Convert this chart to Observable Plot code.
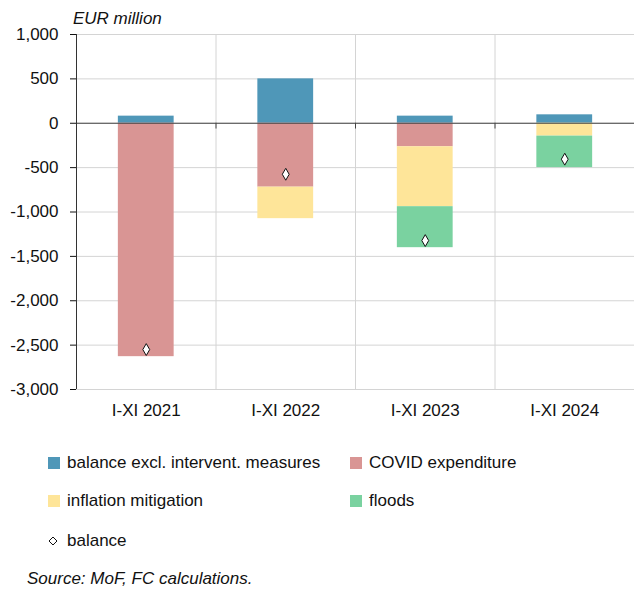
<!DOCTYPE html>
<html><head><meta charset="utf-8">
<script src="https://cdn.jsdelivr.net/npm/d3@7"></script>
<script src="https://cdn.jsdelivr.net/npm/@observablehq/plot@0.6"></script>
<style>
body{margin:0;background:#fff;font-family:"Liberation Sans",sans-serif;color:#111;}
#wrap{position:relative;width:634px;height:590px;}
#chart{position:absolute;left:0;top:0;}
.unit{position:absolute;left:73px;top:9px;font-style:italic;font-size:17px;}
.leg{position:absolute;font-size:17px;line-height:22px;display:flex;align-items:center;}
.sw{width:12px;height:12px;margin-right:7px;display:inline-block;}
.src{position:absolute;left:27px;top:569px;font-style:italic;font-size:17px;}
</style></head><body>
<div id="wrap">
<div id="chart"></div>
<div class="unit">EUR million</div>
<div id="legend"></div>
<div class="src">Source: MoF, FC calculations.</div>
</div>
<script>
const categories = ["I-XI 2021", "I-XI 2022", "I-XI 2023", "I-XI 2024"];
const seriesNames = ["balance excl. intervent. measures", "COVID expenditure", "inflation mitigation", "floods"];
const seriesColors = ["#4f97b8", "#d99594", "#fee599", "#7ad2a0"];
const balanceExcl = [80, 500, 80, 95];
const covid = [-2630, -720, -265, 0];
const inflation = [0, -355, -675, -145];
const floods = [0, 0, -462, -355];
const balance = [-2550, -575, -1322, -405];
const yTicks = [1000, 500, 0, -500, -1000, -1500, -2000, -2500, -3000];

const seriesValues = [balanceExcl, covid, inflation, floods];
const rects = [];
categories.forEach((c, i) => {
  let pos = 0, neg = 0;
  seriesValues.forEach((vals, s) => {
    const v = vals[i];
    if (!v) return;
    let y1, y2;
    if (v >= 0) { y1 = pos; y2 = pos + v; pos = y2; }
    else { y1 = neg; y2 = neg + v; neg = y2; }
    rects.push({i, series: seriesNames[s], y1, y2});
  });
});
const dots = balance.map((v, i) => ({i, v}));
const fmt = d => d3.format(",")(d).replace("\u2212", "-");
const FONT = '"Liberation Sans",sans-serif';

const plot = Plot.plot({
  width: 634, height: 425,
  marginLeft: 76, marginRight: 0, marginTop: 34, marginBottom: 36,
  style: {fontFamily: FONT, fontSize: "17px", color: "#111"},
  x: {type: "linear", domain: [0, 4]},
  y: {domain: [-3000, 1000]},
  color: {domain: seriesNames, range: seriesColors},
  marks: [
    Plot.gridY(yTicks, {stroke: "#d4d4d4", strokeOpacity: 1}),
    Plot.gridX([1, 2, 3, 4], {stroke: "#d4d4d4", strokeOpacity: 1}),
    Plot.rectY(rects, {x1: d => d.i + 0.3, x2: d => d.i + 0.7, y1: "y1", y2: "y2", fill: "series"}),
    Plot.ruleY([0], {stroke: "#444", strokeWidth: 1.2}),
    Plot.ruleX([1, 2, 3], {y1: 0, y2: -65, stroke: "#444"}),
    Plot.ruleX([0], {y1: -3000, y2: 1000, stroke: "#333"}),
    Plot.dot(dots, {x: d => d.i + 0.5, y: "v", symbol: "diamond", r: 3.6, fill: "white", stroke: "#111", strokeWidth: 1}),
    Plot.axisY(yTicks, {tickSize: 6, tickPadding: 12, tickFormat: fmt, label: null, fontSize: 17}),
    Plot.axisX([0.5, 1.5, 2.5, 3.5], {tickSize: 0, tickPadding: 14, tickFormat: d => categories[Math.floor(d)], label: null, fontSize: 17})
  ]
});
document.getElementById("chart").appendChild(plot);

const legend = document.getElementById("legend");
const pos = [[48, 452], [350, 452], [48, 490], [350, 490]];
seriesNames.forEach((n, k) => {
  const d = document.createElement("div");
  d.className = "leg";
  d.style.left = pos[k][0] + "px"; d.style.top = pos[k][1] + "px";
  d.innerHTML = `<span class="sw" style="background:${seriesColors[k]}"></span><span>${n}</span>`;
  legend.appendChild(d);
});
const b = document.createElement("div");
b.className = "leg"; b.style.left = "47px"; b.style.top = "530px";
b.innerHTML = `<svg width="12" height="12" style="margin-right:8px"><path d="M6,2L10,6L6,10L2,6Z" fill="white" stroke="#111"/></svg><span>balance</span>`;
legend.appendChild(b);
</script>
</body></html>
